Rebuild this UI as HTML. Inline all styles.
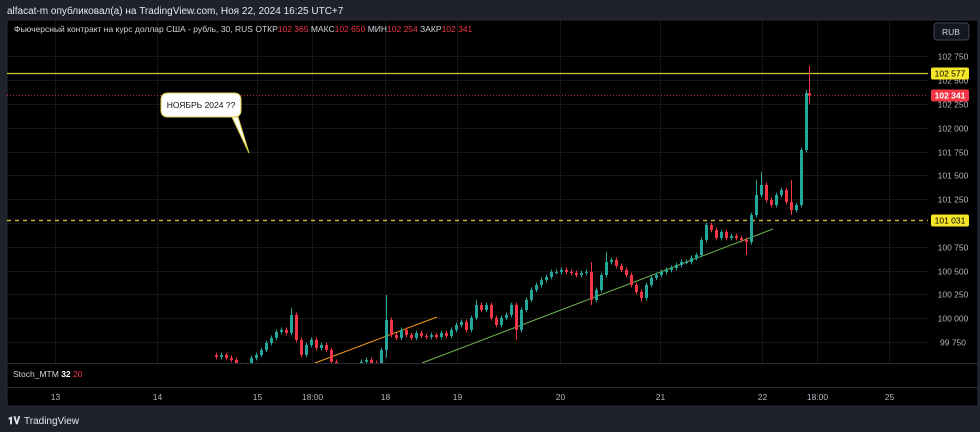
<!DOCTYPE html>
<html><head><meta charset="utf-8">
<style>
body{margin:0;width:980px;height:432px;background:#1f222b;overflow:hidden;font-family:"Liberation Sans",sans-serif;}
svg{position:absolute;left:0;top:0}
</style></head>
<body>
<svg id="chart" width="980" height="432" xmlns="http://www.w3.org/2000/svg">
  <rect x="0" y="0" width="980" height="432" fill="#1f222b"/>
  <text x="7" y="14" fill="#e6e8ee" font-size="10">alfacat-m опубликовал(а) на TradingView.com, Ноя 22, 2024 16:25 UTC+7</text>
  <rect x="7" y="20" width="971" height="386" fill="#000" stroke="#2a2e39"/>
  <g id="grid"></g>
  <g id="lines"></g>
  <g id="candles"></g>
  <g id="axis"></g>
  <text x="14" y="32" fill="#d1d4dc" font-size="8.5">Фьючерсный контракт на курс доллар США - рубль, 30, RUS  ОТКР<tspan fill="#f23645">102 365</tspan>  МАКС<tspan fill="#f23645">102 650</tspan>  МИН<tspan fill="#f23645">102 254</tspan>  ЗАКР<tspan fill="#f23645">102 341</tspan></text>
  <rect x="934" y="23" width="35" height="17" rx="3" fill="#131722" stroke="#434651"/>
  <text x="951" y="35" fill="#d1d4dc" font-size="8.5" text-anchor="middle">RUB</text>
  <line x1="7" y1="363.5" x2="978" y2="363.5" stroke="#2a2e39"/>
  <line x1="7" y1="387.5" x2="978" y2="387.5" stroke="#2a2e39"/>
  <text x="13" y="377" fill="#d1d4dc" font-size="8.5">Stoch_MTM <tspan fill="#fff" font-weight="bold">32</tspan> <tspan fill="#f23645">20</tspan></text>
  <g id="timeaxis"></g>
  <path d="M161 100 Q161 93 168 93 L234 93 Q241 93 241 100 L241 110 Q241 117 234 117 L232 117 L249 153 L238 117 L168 117 Q161 117 161 110 Z" fill="#fff" stroke="#e0d24a" stroke-width="1"/>
  <text x="201" y="108" fill="#111" font-size="8.5" text-anchor="middle">НОЯБРЬ 2024 ??</text>
  <text x="8" y="424" fill="#e6e8ee" font-size="10" font-weight="bold">𝟏𝐕</text>
  <text x="24" y="424" fill="#e6e8ee" font-size="10">TradingView</text>
</svg>
<script>
const closes=[99593,99614,99583,99562,99509,99478,99509,99583,99614,99667,99740,99793,99856,99877,99845,100034,99772,99614,99719,99772,99688,99719,99667,99541,99478,99436,99457,99478,99499,99541,99562,99530,99509,99667,99982,99824,99793,99877,99824,99793,99845,99814,99803,99824,99803,99845,99814,99877,99929,99961,99877,100003,100139,100087,100139,100003,99929,100003,100034,100139,99877,100087,100192,100297,100349,100402,100433,100486,100486,100507,100486,100475,100454,100475,100486,100192,100297,100454,100591,100612,100549,100507,100454,100349,100276,100213,100349,100423,100454,100486,100507,100528,100559,100591,100591,100633,100664,100822,100979,100927,100843,100906,100843,100864,100843,100822,100801,101084,101294,101399,101241,101189,101294,101346,101220,101136,101189,101766,102365,102341];
const highOverrides={15:100107,34:100244,52:100192,75:100591,78:100696,108:101452,109:101535,115:101452,118:102400,119:102650};
const lowOverrides={34:99583,60:99772,75:100139,85:100171,106:100664,115:101084,119:102254};
const priceTicks=[102750,102500,102250,102000,101750,101500,101250,101000,100750,100500,100250,100000,99750];
const timeLabels=["13","14","15","18:00","18","19","20","21","22","18:00","25"];
const timeLabelX=[55,157,257,312,385,457,560,660,762,817,889];
const hLevels=[102577,101031];
const lastPrice=102341;

const NS="http://www.w3.org/2000/svg";
const yOf=p=>223-(p-101000)*0.0952;
const xOf=i=>215+5*i - (i===119?2:0);
function mk(tag,attrs,parent){const e=document.createElementNS(NS,tag);for(const k in attrs)e.setAttribute(k,attrs[k]);parent.appendChild(e);return e;}
const grid=document.getElementById('grid'),lines=document.getElementById('lines'),cg=document.getElementById('candles'),ax=document.getElementById('axis'),ta=document.getElementById('timeaxis');

priceTicks.forEach(p=>{
  const y=Math.round(yOf(p))+0.5;
  const l=mk('line',{x1:7,x2:928,y1:y,y2:y,stroke:'#161616'},grid);
  
  
  const t=mk('text',{x:953,y:y+3,fill:'#b2b5be','font-size':8.5,'text-anchor':'middle'},ax);
  
  
  t.textContent=String(p).replace(/(\d{3})$/,' $1');
});
timeLabels.forEach((s,i)=>{
  const x=timeLabelX[i]+0.5;
  const l=mk('line',{x1:x,x2:x,y1:21,y2:363,stroke:'#161616'},grid);
  
  
  const t=mk('text',{x:x,y:400,fill:'#b2b5be','font-size':8.5,'text-anchor':'middle'},ta);
  
  
  t.textContent=s;
});

// trend lines
let tl=mk('line',{x1:315,y1:363,x2:437,y2:317,stroke:'#f39c12','stroke-width':1},lines);


tl=mk('line',{x1:422,y1:363,x2:773,y2:229,stroke:'#6ab04c','stroke-width':1},lines);



// candles
const clip=mk('clipPath',{id:'pane'},cg);mk('rect',{x:7,y:21,width:921,height:342},clip);
cg.setAttribute('clip-path','url(#pane)');
closes.forEach((c,i)=>{
  const o=i===0?closes[0]+20:(i===119?102365:closes[i-1]);
  const hi=highOverrides[i]!==undefined?highOverrides[i]:Math.max(o,c)+25;
  const lo=lowOverrides[i]!==undefined?lowOverrides[i]:Math.min(o,c)-25;
  const col=c>=o?'#26a69a':'#f23645';
  const x=xOf(i);
  const g=mk('g',{},cg);
  
  
  mk('line',{x1:x+1.5,x2:x+1.5,y1:yOf(hi),y2:yOf(lo),stroke:col,'stroke-width':1},g);
  const yt=yOf(Math.max(o,c)),yb=yOf(Math.min(o,c));
  mk('rect',{x:x,y:yt,width:3,height:Math.max(1,yb-yt),fill:col},g);
});

// horizontal levels
hLevels.forEach((p,k)=>{
  const y=Math.round(yOf(p))+0.5;
  const l=mk('line',{x1:7,x2:928,y1:y,y2:y,stroke:k===0?'#d8c73a':'#c9b83a','stroke-width':k===0?1.2:1.5,'stroke-dasharray':k===0?'':'4,4'},lines);
  
  
  const r=mk('rect',{x:931,y:y-6,width:38,height:12,rx:2,fill:'#f5e62a'},ax);
  
  
  const t=mk('text',{x:950,y:y+3,fill:'#000','font-size':8.5,'text-anchor':'middle'},ax);
  
  
  t.textContent=String(p).replace(/(\d{3})$/,' $1');
});
{
  const y=Math.round(yOf(lastPrice))+0.5;
  const l=mk('line',{x1:7,x2:928,y1:y,y2:y,stroke:'#f23645','stroke-width':0.8,'stroke-dasharray':'1,2'},lines);
  
  
  const r=mk('rect',{x:931,y:y-6,width:38,height:12,rx:2,fill:'#f23645'},ax);
  
  
  const t=mk('text',{x:950,y:y+3,fill:'#fff','font-size':8.5,'text-anchor':'middle','font-weight':'bold'},ax);
  
  
  t.textContent=String(lastPrice).replace(/(\d{3})$/,' $1');
}
</script>
</body></html>
